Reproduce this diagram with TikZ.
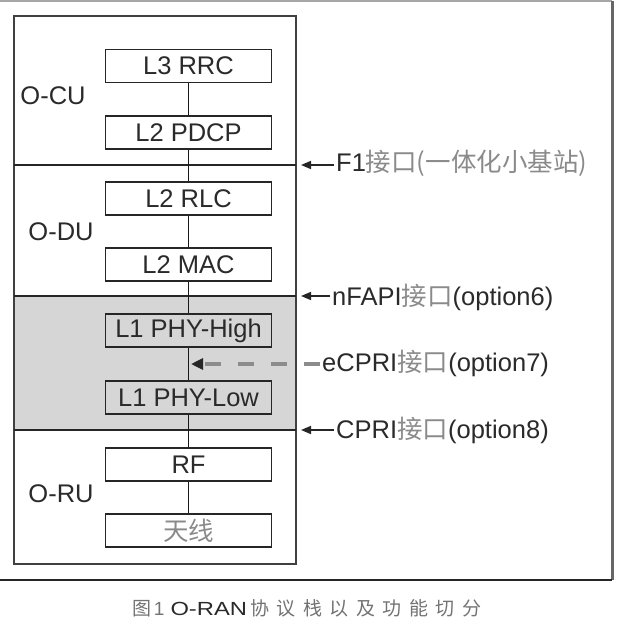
\documentclass[tikz,border=0pt]{standalone}
\usepackage{fontspec}
\setmainfont{Liberation Sans}
\newfontfamily\cjk{Noto Sans CJK SC}
\usetikzlibrary{arrows.meta}
\definecolor{txt}{HTML}{2A2A2A}
\definecolor{cjkc}{HTML}{8A8A8A}
\definecolor{fillg}{HTML}{D6D6D6}
\begin{document}
\begin{tikzpicture}[x=1pt,y=-1pt,
  layer/.style={draw=black!85, line width=1.8pt, minimum width=166pt, minimum height=33pt, inner sep=0pt, font=\fontsize{25.5}{25.5}\selectfont, text=txt},
  grp/.style={font=\fontsize{25.5}{25.5}\selectfont, text=txt, inner sep=0pt},
  lab/.style={font=\fontsize{25.5}{25.5}\selectfont, text=txt, anchor=west, inner sep=2pt},
  divider/.style={line width=2pt, draw=black!85},
  arr/.style={line width=1.6pt, draw=black!85, -{Triangle[length=10pt,width=8pt]}},
  darr/.style={line width=4pt, draw=black!45, dash pattern=on 16pt off 17pt, -{Triangle[length=12pt,width=11pt,color=black!85]}},
  link/.style={line width=1.8pt, draw=black!90}]
\useasboundingbox (0,0) rectangle (633,642);
% outer frame
\coordinate (o1) at (0,1);
\coordinate (o2) at (612,1);
\coordinate (o3) at (612,580);
\coordinate (o4) at (0,580);
\draw[line width=2pt, draw=black!35] (o1) -- (o2);
\draw[line width=3pt, draw=black!60] (o2) -- (o3);
\draw[line width=2.5pt, draw=black!85] (o3) -- (o4);
% shaded L1 region
\fill[fillg] (14,296) rectangle (296,430);
% inner frame
\draw[line width=2.5pt, draw=black!75] (14,16) rectangle (296,564);
% dividers
\coordinate (d1l) at (14,165); \coordinate (d1r) at (296,165);
\coordinate (d2l) at (14,296); \coordinate (d2r) at (296,296);
\coordinate (d3l) at (14,430); \coordinate (d3r) at (296,430);
\draw[divider] (d1l) -- (d1r);
\draw[divider] (d2l) -- (d2r);
\draw[divider] (d3l) -- (d3r);
% layers
\node[layer] (rrc)  at (188.5,66)    {L3 RRC};
\node[layer] (pdcp) at (188.5,132.5) {L2 PDCP};
\node[layer] (rlc)  at (188.5,198.5) {L2 RLC};
\node[layer] (mac)  at (188.5,264.5) {L2 MAC};
\node[layer] (phyh) at (188.5,330.5) {L1 PHY-High};
\node[layer] (phyl) at (188.5,397.5) {L1 PHY-Low};
\node[layer] (rf)   at (188.5,464.5) {RF};
\node[layer] (ant)  at (188.5,530.5) {\cjk\color{cjkc}天线};
\draw[link] (rrc) -- (pdcp);
\draw[link] (pdcp) -- (rlc);
\draw[link] (rlc) -- (mac);
\draw[link] (mac) -- (phyh);
\draw[link] (phyh) -- (phyl);
\draw[link] (phyl) -- (rf);
\draw[link] (rf) -- (ant);
% group labels
\node[grp] (ocu) at (53,96) {O-CU};
\node[grp] (odu) at (61,232) {O-DU};
\node[grp] (oru) at (61,494) {O-RU};
% interface labels
\node[lab] (f1)    at (334,163) {F1{\cjk\color{cjkc}接口(一体化小基站)}};
\node[lab] (nfapi) at (330,297) {nFAPI{\cjk\color{cjkc}接口}(option6)};
\node[lab] (ecpri) at (320,363) {eCPRI{\cjk\color{cjkc}接口}(option7)};
\node[lab] (cpri)  at (334,430) {CPRI{\cjk\color{cjkc}接口}(option8)};
\coordinate (t1) at (301,165);
\coordinate (t2) at (301,296);
\coordinate (t3) at (191,364);
\coordinate (t4) at (301,430);
\draw[arr] (f1.west |- t1) -- (t1);
\draw[arr] (nfapi.west |- t2) -- (t2);
\draw[darr] (ecpri.west |- t3) -- (t3);
\draw[arr] (cpri.west |- t4) -- (t4);
% caption
\node[font=\fontsize{19}{19}\selectfont, text=black!55, inner sep=0pt] (cap) at (307,608)
  {{\cjk 图}\hspace{2pt}1\hspace{6pt}{\color{txt}\scalebox{1.25}[1]{O-RAN}}\hspace{3pt}{\cjk 协\hspace{7.5pt}议\hspace{7.5pt}栈\hspace{7.5pt}以\hspace{7.5pt}及\hspace{7.5pt}功\hspace{7.5pt}能\hspace{7.5pt}切\hspace{7.5pt}分}};
\end{tikzpicture}
\end{document}
